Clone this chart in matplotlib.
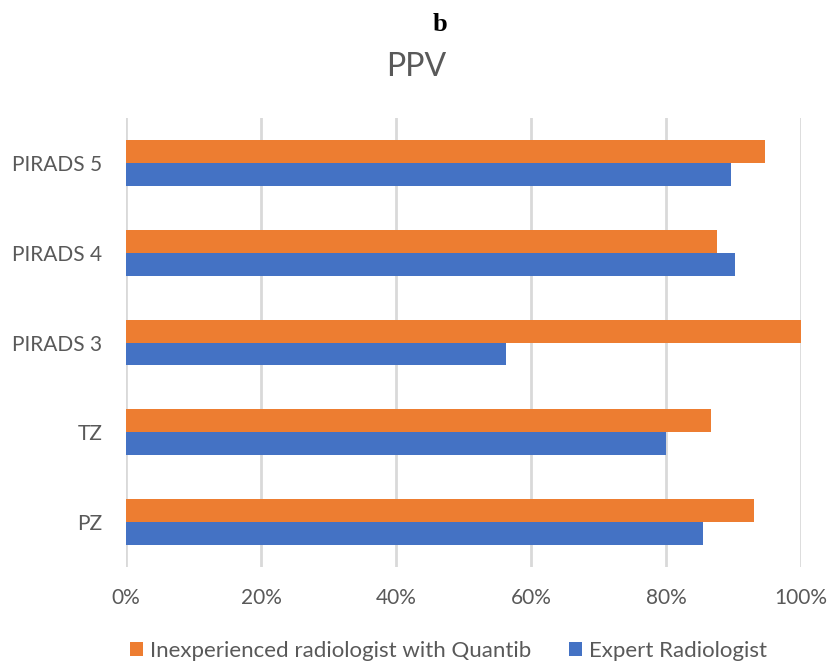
import matplotlib.pyplot as plt
import numpy as np
from matplotlib.ticker import FuncFormatter

categories = ['PZ', 'TZ', 'PIRADS 3', 'PIRADS 4', 'PIRADS 5']
inexperienced = [93.0, 86.7, 100.0, 87.5, 94.6]
expert = [85.5, 80.0, 56.3, 90.2, 89.6]

orange = '#ED7D31'
blue = '#4472C4'
text_gray = '#595959'
plt.rcParams['font.family'] = ['Lato', 'DejaVu Sans']

fig = plt.figure(figsize=(8.3, 6.63), dpi=100)
ax = fig.add_axes([0.1518, 0.1448, 0.8133, 0.6772])

y = np.arange(len(categories))
h = 0.255
ax.barh(y + h / 2, inexperienced, height=h, color=orange,
        label='Inexperienced radiologist with Quantib', zorder=3)
ax.barh(y - h / 2, expert, height=h, color=blue,
        label='Expert Radiologist', zorder=3)

ax.set_xlim(0, 100)
ax.set_ylim(-0.5, 4.5)
ax.set_xticks(range(0, 101, 20))
ax.xaxis.set_major_formatter(FuncFormatter(lambda v, p: f'{v:.0f}%'))
ax.set_yticks(y)
ax.set_yticklabels(categories)
ax.tick_params(length=0, labelsize=15, labelcolor=text_gray)
ax.tick_params(axis='x', pad=15)
ax.tick_params(axis='y', pad=17)
ax.grid(axis='x', color='#d9d9d9', linewidth=2, zorder=0)
for s in ax.spines.values():
    s.set_visible(False)

fig.text(0.530, 0.963, 'b', ha='center', va='center', fontsize=19,
         fontweight='bold', family='Liberation Serif', color='black')
fig.text(0.501, 0.899, 'PPV', ha='center', va='center', fontsize=23,
         color=text_gray)

fig.legend(loc='center', bbox_to_anchor=(0.54, 0.018), ncol=2, frameon=False,
           fontsize=16, labelcolor=text_gray, handlelength=0.6,
           handleheight=0.6, handletextpad=0.3, columnspacing=1.7)

fig.savefig('out.png', dpi=100)
